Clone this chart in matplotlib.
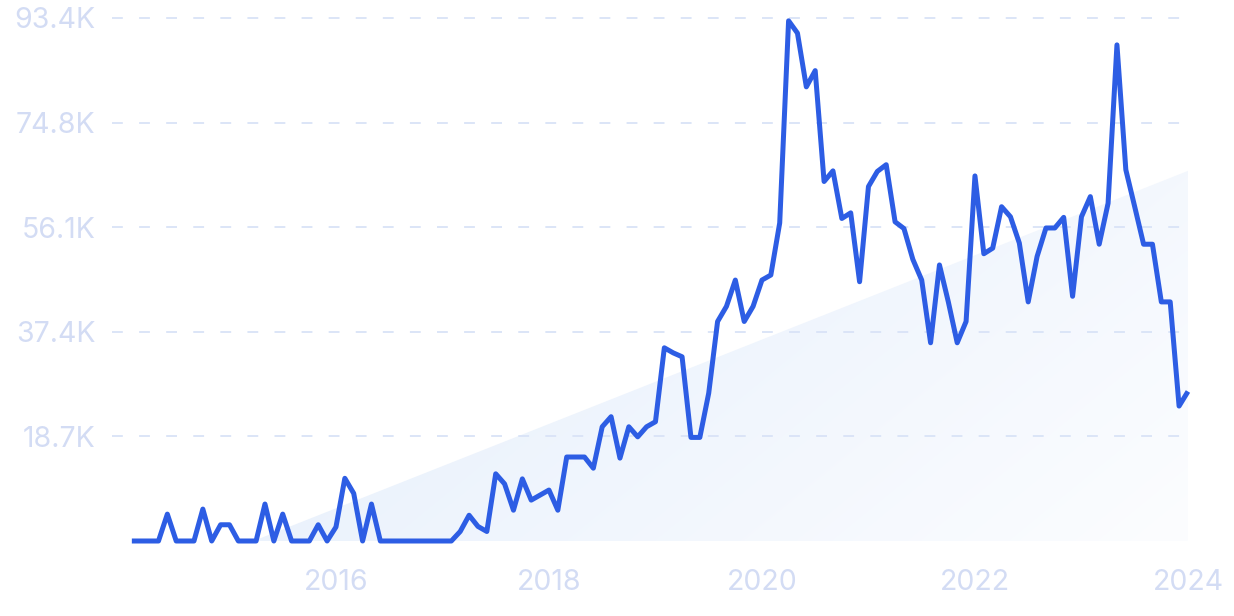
"""Monthly search-volume style line with a trend wedge behind it. Saves out.png."""

import matplotlib
matplotlib.use("Agg")
import matplotlib.pyplot as plt
import numpy as np
import pandas as pd
from matplotlib.patches import Polygon

START_MONTH = "2014-02"
# monthly values, thousands
VALUES = [
    0, 0, 0, 0, 4.8, 0, 0, 0, 5.7, 0, 2.9, 2.9,
    0, 0, 0, 6.6, 0, 4.8, 0, 0, 0, 2.9, 0, 2.5,
    11.2, 8.5, 0, 6.6, 0, 0, 0, 0, 0, 0, 0, 0,
    0, 1.7, 4.6, 2.6, 1.7, 12.0, 10.2, 5.5, 11.1, 7.3, 8.2, 9.1,
    5.5, 15.0, 15.0, 15.0, 13.0, 20.4, 22.2, 14.8, 20.4, 18.6, 20.4, 21.3,
    34.5, 33.6, 32.9, 18.5, 18.5, 26.4, 39.2, 41.9, 46.6, 39.2, 41.9, 46.6,
    47.5, 56.8, 92.9, 90.7, 81.1, 84.0, 64.2, 66.1, 57.6, 58.6, 46.3, 63.3,
    66.0, 67.2, 57.0, 55.8, 50.3, 46.6, 35.4, 49.3, 42.7, 35.4, 39.2, 65.2,
    51.3, 52.3, 59.7, 57.9, 53.2, 42.7, 50.8, 55.9, 55.9, 57.8, 43.7, 57.9,
    61.5, 53.0, 60.3, 88.6, 66.3, 59.7, 53.0, 53.0, 42.7, 42.7, 24.1, 26.7,
]
# trend line value at first and last month, thousands
TREND_ENDS = [-8.6, 66.1]

Y_TICKS = [18.68, 37.36, 56.04, 74.72, 93.4]
Y_LABELS = ["18.7K", "37.4K", "56.1K", "74.8K", "93.4K"]
X_TICKS = [2016, 2018, 2020, 2022, 2024]

LINE = "#2d5de4"
LABEL = "#d3dcf4"
GRID = "#d9e3f7"


def main():
    dates = pd.date_range(START_MONTH, periods=len(VALUES), freq="MS")
    x = dates.year + (dates.month - 1) / 12.0
    y = np.array(VALUES)
    trend = np.linspace(TREND_ENDS[0], TREND_ENDS[1], len(x))
    trend = np.clip(trend, 0, None)

    fig = plt.figure(figsize=(12.34, 6.16), dpi=100)
    W, H = 1234, 616
    # axes box in pixels: left 112, right 1192, top 14, bottom 545
    ax = fig.add_axes([112 / W, 1 - 545 / H, 1080 / W, 531 / H])
    ax.set_xlim(2013.897, 2024.038)
    px = 93.4 / 523
    ax.set_ylim(-4 * px, 93.4 + 4 * px)
    for s in ax.spines.values():
        s.set_visible(False)

    # gradient wedge under the trend line
    xs = np.concatenate([x, x[::-1]])
    ys = np.concatenate([trend, np.zeros_like(trend)])
    poly = Polygon(np.column_stack([xs, ys]), closed=True, facecolor="none",
                   edgecolor="none")
    ax.add_patch(poly)
    gx, gy = np.meshgrid(np.linspace(0, 1, 300), np.linspace(0, 1, 200))
    t = np.clip(0.7 * gx + 0.3 * gy, 0, 1)
    c0 = np.array([225, 236, 251]) / 255
    c1 = np.array([252, 253, 255]) / 255
    img = c0[None, None, :] * (1 - t[..., None]) + c1[None, None, :] * t[..., None]
    im = ax.imshow(img, extent=[x[0], x[-1], 0, TREND_ENDS[1]], origin="upper",
                   aspect="auto", zorder=1, interpolation="bilinear")
    im.set_clip_path(poly)

    # dashed grid, stops a little before the right end
    for v in Y_TICKS:
        ax.plot([2013.897, 2023.94], [v, v], color=GRID, lw=1.3,
                dashes=(6, 9), zorder=2)

    ax.plot(x, y, color=LINE, lw=3.6, solid_joinstyle="round",
            solid_capstyle="butt", zorder=3, clip_on=False)

    ax.set_yticks(Y_TICKS)
    ax.set_yticklabels(Y_LABELS)
    ax.set_xticks(X_TICKS)
    ax.set_xticklabels([str(v) for v in X_TICKS])
    ax.tick_params(length=0, labelsize=20.5, labelcolor=LABEL)
    ax.tick_params(axis="x", pad=17)
    ax.tick_params(axis="y", pad=12)
    for lab in ax.get_xticklabels() + ax.get_yticklabels():
        lab.set_family(["Inter", "DejaVu Sans"])

    fig.savefig("out.png", dpi=100)
    print("saved out.png")


if __name__ == "__main__":
    main()
